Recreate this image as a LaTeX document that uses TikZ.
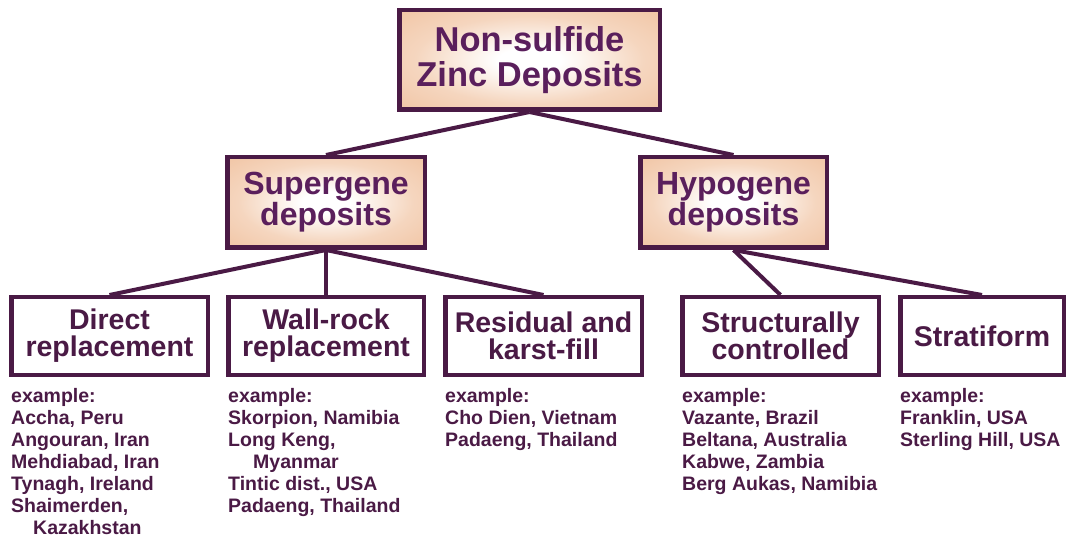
\documentclass[tikz,border=0pt]{standalone}
\usepackage{fontspec}
\setmainfont{Liberation Sans}
\definecolor{plum}{HTML}{4A1A45}
\definecolor{titlepurple}{HTML}{5A1F5C}
\definecolor{tanedge}{HTML}{EDB48A}
\pgfdeclareradialshading{peachglow}{\pgfpoint{0bp}{0bp}}{color(0bp)=(white); color(6bp)=(white); color(22bp)=(tanedge!55!white); color(50bp)=(tanedge); color(72bp)=(tanedge)}
\tikzset{
  shadedbox/.style={draw=plum, line width=4.5pt, shading=peachglow, text=titlepurple, align=center, inner sep=0pt},
  plainbox/.style={draw=plum, line width=4.5pt, fill=white, text=plum, align=center, inner sep=0pt,
    minimum height=77.5pt, font=\fontsize{28.5}{27}\selectfont\bfseries},
  link/.style={draw=plum, line width=4pt},
  extext/.style={anchor=north west, text=plum, align=left, inner sep=0pt,
    font=\fontsize{19.5}{22}\selectfont\bfseries}
}
\begin{document}
\begin{tikzpicture}[x=1pt,y=-1pt]
\useasboundingbox (0,0) rectangle (1068,537);
% boxes
\node[shadedbox, minimum width=260.5pt, minimum height=99.5pt, font=\fontsize{34.5}{35}\selectfont\bfseries] (root) at (529.5,60) {Non-sulfide\\Zinc Deposits};
\node[shadedbox, minimum width=197.5pt, minimum height=90.5pt, font=\fontsize{32}{31}\selectfont\bfseries] (sup) at (326,202.5) {Supergene\\deposits};
\node[shadedbox, minimum width=186.5pt, minimum height=90.5pt, font=\fontsize{32}{31}\selectfont\bfseries] (hyp) at (733.5,202.5) {Hypogene\\deposits};
\node[plainbox, minimum width=196.5pt] (direct) at (109.5,336) {Direct\\replacement};
\node[plainbox, minimum width=195.5pt] (wall) at (326,336) {Wall-rock\\replacement};
\node[plainbox, minimum width=196.5pt] (resid) at (543.5,336) {Residual and\\karst-fill};
\node[plainbox, minimum width=196.5pt] (struct) at (780.5,336) {Structurally\\controlled};
\node[plainbox, minimum width=163.5pt] (strat) at (982,336) {Stratiform};
% links
\draw[link] (root.south) -- (sup.north);
\draw[link] (root.south) -- (hyp.north);
\draw[link] (sup.south) -- (direct.north);
\draw[link] (sup.south) -- (wall.north);
\draw[link] (sup.south) -- (resid.north);
\draw[link] (hyp.south) -- (struct.north);
\draw[link] (hyp.south) -- (strat.north);
% examples
\node[extext] (exdirect) at (11,388) {example:\\Accha, Peru\\Angouran, Iran\\Mehdiabad, Iran\\Tynagh, Ireland\\Shaimerden,\\\hspace*{22pt}Kazakhstan};
\node[extext] (exwall) at (228,388) {example:\\Skorpion, Namibia\\Long Keng,\\\hspace*{25pt}Myanmar\\Tintic dist., USA\\Padaeng, Thailand};
\node[extext] (exresid) at (445,388) {example:\\Cho Dien, Vietnam\\Padaeng, Thailand};
\node[extext] (exstruct) at (682,388) {example:\\Vazante, Brazil\\Beltana, Australia\\Kabwe, Zambia\\Berg Aukas, Namibia};
\node[extext] (exstrat) at (900,388) {example:\\Franklin, USA\\Sterling Hill, USA};
\end{tikzpicture}
\end{document}
